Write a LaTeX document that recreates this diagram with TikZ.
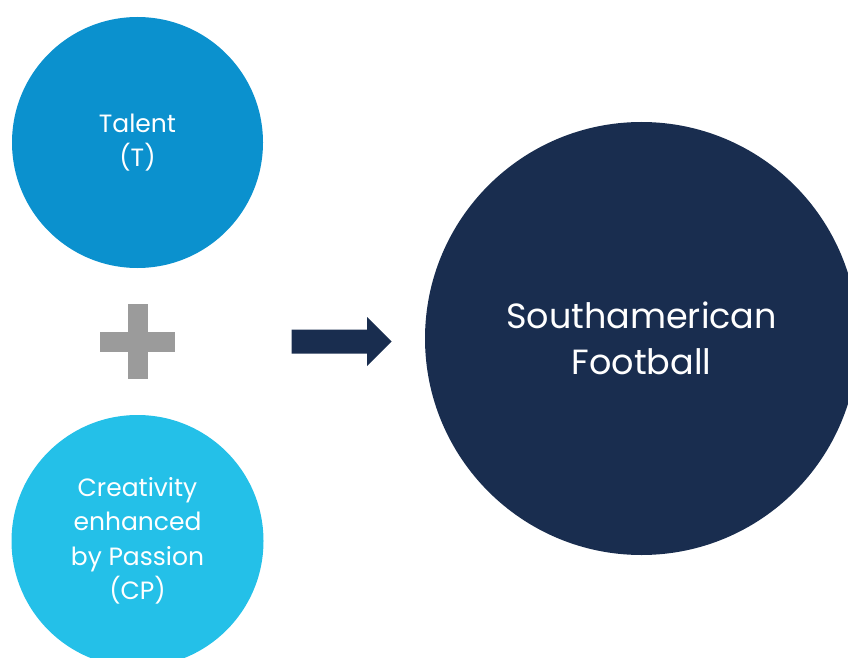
\documentclass[tikz,border=0pt]{standalone}
\usepackage{fontspec}
\setmainfont{Poppins}
\usetikzlibrary{positioning}
\definecolor{tblue}{RGB}{11,145,206}
\definecolor{cpblue}{RGB}{36,192,232}
\definecolor{sfnavy}{RGB}{25,45,79}
\definecolor{plusgray}{RGB}{155,155,155}

\tikzset{
  bubble/.style={circle, inner sep=0pt, outer sep=0pt, text=white, align=center},
  smalltxt/.style={font=\fontsize{25}{34.5}\selectfont},
  bigtxt/.style={font=\fontsize{35}{46}\selectfont}
}

\begin{document}
\begin{tikzpicture}[x=1pt, y=-1pt]
\useasboundingbox (0,0) rectangle (848,658);
\clip (0,0) rectangle (848,658);
% left: the two ingredients
\node[bubble, smalltxt, fill=tblue, minimum size=251pt] (talent) at (137.5,142.5) {Talent\\(T)};
\node[bubble, smalltxt, fill=cpblue, minimum size=252pt] (creat) at (137.5,541) {Creativity\\enhanced\\by Passion\\(CP)};
% plus sign
\fill[plusgray] (100,331.5) rectangle (174.5,351.5);
\fill[plusgray] (127.5,304) rectangle (147.5,378.5);
% right: result
\node[bubble, bigtxt, fill=sfnavy, minimum size=433pt] (football) at (641.5,338.5) {Southamerican\\Football};
% block arrow
\fill[sfnavy] (291.5,329.5) -- (367,329.5) -- (367,317) -- (391.5,341.5)
  -- (367,366) -- (367,353.5) -- (291.5,353.5) -- cycle;
\end{tikzpicture}
\end{document}
